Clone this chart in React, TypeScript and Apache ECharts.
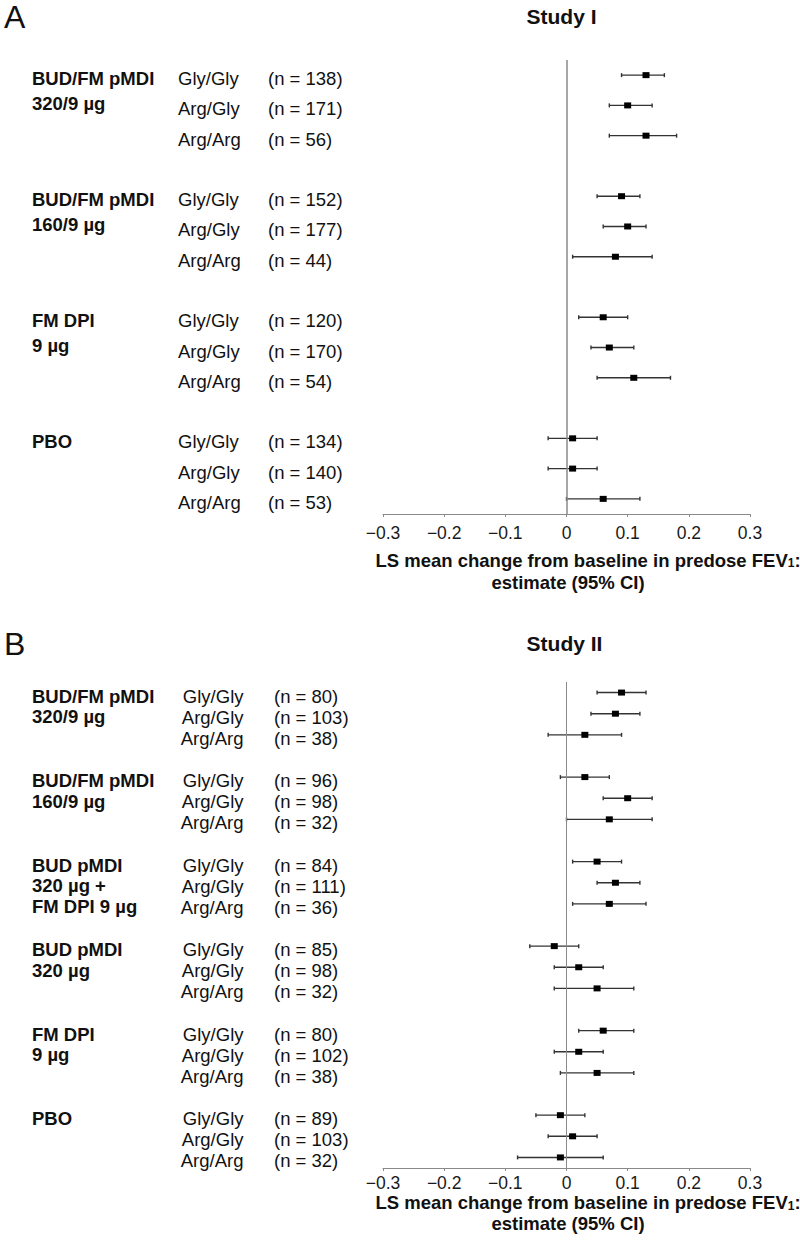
import React, { useEffect, useRef } from "react";
import * as echarts from "echarts";

const FONT = "'Liberation Sans', Arial, Helvetica, sans-serif";

const genotypes = ["Gly/Gly", "Arg/Gly", "Arg/Arg"];

// Study I
const studyIGroups = ["BUD/FM pMDI\n320/9 µg", "BUD/FM pMDI\n160/9 µg", "FM DPI\n9 µg", "PBO"];
const studyIN = [[138, 171, 56], [152, 177, 44], [120, 170, 54], [134, 140, 53]];
const studyIEst = [[0.13, 0.10, 0.13], [0.09, 0.10, 0.08], [0.06, 0.07, 0.11], [0.01, 0.01, 0.06]];
const studyILo = [[0.09, 0.07, 0.07], [0.05, 0.06, 0.01], [0.02, 0.04, 0.05], [-0.03, -0.03, 0.0]];
const studyIHi = [[0.16, 0.14, 0.18], [0.12, 0.13, 0.14], [0.10, 0.11, 0.17], [0.05, 0.05, 0.12]];

// Study II
const studyIIGroups = [
  "BUD/FM pMDI\n320/9 µg",
  "BUD/FM pMDI\n160/9 µg",
  "BUD pMDI\n320 µg +\nFM DPI 9 µg",
  "BUD pMDI\n320 µg",
  "FM DPI\n9 µg",
  "PBO",
];
const studyIIN = [[80, 103, 38], [96, 98, 32], [84, 111, 36], [85, 98, 32], [80, 102, 38], [89, 103, 32]];
const studyIIEst = [[0.09, 0.08, 0.03], [0.03, 0.10, 0.07], [0.05, 0.08, 0.07], [-0.02, 0.02, 0.05], [0.06, 0.02, 0.05], [-0.01, 0.01, -0.01]];
const studyIILo = [[0.05, 0.04, -0.03], [-0.01, 0.06, 0.0], [0.01, 0.05, 0.01], [-0.06, -0.02, -0.02], [0.02, -0.02, -0.01], [-0.05, -0.03, -0.08]];
const studyIIHi = [[0.13, 0.12, 0.09], [0.07, 0.14, 0.14], [0.09, 0.12, 0.13], [0.02, 0.06, 0.11], [0.11, 0.06, 0.11], [0.03, 0.05, 0.06]];

const ROWS_PER_GROUP = 4; // 3 genotypes + 1 spacer row

function rowIndex(gi: number, ri: number) {
  return gi * ROWS_PER_GROUP + ri;
}
function buildRows(est: number[][], lo: number[][], hi: number[][]) {
  return est.flatMap((g, gi) => g.map((e, ri) => [rowIndex(gi, ri), e, lo[gi][ri], hi[gi][ri]]));
}
function categories(nGroups: number) {
  const n = nGroups * ROWS_PER_GROUP - 1;
  return Array.from({ length: n }, (_, i) => String(i));
}

function fmtTick(v: number) {
  if (Math.abs(v) < 1e-9) return "0";
  return (v < 0 ? "\u2212" : "") + Math.abs(v).toFixed(1);
}

const renderCI = (params: any, api: any) => {
  const yi = api.value(0);
  const pE = api.coord([api.value(1), yi]);
  const pL = api.coord([api.value(2), yi]);
  const pH = api.coord([api.value(3), yi]);
  const st = { stroke: "#333", lineWidth: 1.4 };
  return {
    type: "group",
    children: [
      { type: "line", shape: { x1: pL[0], y1: pL[1], x2: pH[0], y2: pH[1] }, style: st },
      { type: "line", shape: { x1: pL[0], y1: pL[1] - 2, x2: pL[0], y2: pL[1] + 2 }, style: st },
      { type: "line", shape: { x1: pH[0], y1: pH[1] - 2, x2: pH[0], y2: pH[1] + 2 }, style: st },
      { type: "rect", shape: { x: pE[0] - 3.5, y: pE[1] - 3, width: 7, height: 6 }, style: { fill: "#000" } },
    ],
  };
};

function xAxisCfg(gridIndex: number, margin: number) {
  return {
    type: "value",
    gridIndex,
    min: -0.3,
    max: 0.3,
    interval: 0.1,
    splitLine: { show: false },
    axisLine: { show: true, onZero: false, lineStyle: { color: "#8a8a8a", width: 1 } },
    axisTick: { show: true, length: 3, lineStyle: { color: "#8a8a8a" } },
    axisLabel: {
      fontSize: 17.5,
      lineHeight: 15,
      color: "#1a1a1a",
      fontFamily: FONT,
      margin,
      formatter: fmtTick,
    },
  };
}

function yAxisCfg(gridIndex: number, n: number) {
  return {
    type: "category",
    gridIndex,
    inverse: true,
    data: categories(n),
    axisLine: { show: false },
    axisTick: { show: false },
    axisLabel: { show: false },
    splitLine: { show: false },
  };
}

function ciSeries(idx: number, data: number[][], zeroWidth: number) {
  return {
    type: "custom",
    xAxisIndex: idx,
    yAxisIndex: idx,
    renderItem: renderCI,
    encode: { x: [1, 2, 3], y: 0 },
    data,
    markLine: {
      silent: true,
      symbol: "none",
      label: { show: false },
      lineStyle: { color: "#8a8a8a", width: zeroWidth, type: "solid" },
      data: [{ xAxis: 0 }],
    },
  };
}

export default function App() {
  const ref = useRef<HTMLDivElement>(null);
  useEffect(() => {
    if (!ref.current) return;
    const chart = echarts.init(ref.current, null, { renderer: "svg" });
    const option: any = {
      animation: false,
      backgroundColor: "#fff",
      grid: [
        { left: 383, top: 60, width: 367, height: 454 },
        { left: 383, top: 682, width: 367, height: 486 },
      ],
      xAxis: [xAxisCfg(0, 11), xAxisCfg(1, 7)],
      yAxis: [yAxisCfg(0, studyIGroups.length), yAxisCfg(1, studyIIGroups.length)],
      series: [
        ciSeries(0, buildRows(studyIEst, studyILo, studyIHi), 1.5),
        ciSeries(1, buildRows(studyIIEst, studyIILo, studyIIHi), 1),
      ],
    };
    chart.setOption(option);

    const txt = (x: number, y: number, text: string, extra: any = {}) => ({
      type: "text",
      x,
      y,
      silent: true,
      style: {
        text,
        fill: "#111",
        fontFamily: FONT,
        fontSize: 18.5,
        verticalAlign: "middle",
        align: "left",
        ...extra,
      },
    });

    const graphics: any[] = [];
    // panel letters & titles
    graphics.push(txt(4, 16.5, "A", { fontSize: 32 }));
    graphics.push(txt(4, 643.5, "B", { fontSize: 32 }));
    graphics.push(txt(561.5, 16, "Study I", { fontSize: 21, fontWeight: "bold", align: "center" }));
    graphics.push(txt(564.5, 643, "Study II", { fontSize: 21, fontWeight: "bold", align: "center" }));

    const axisTitle = (x1: number, y1: number, x2: number, y2: number) => {
      graphics.push({
        type: "text",
        x: x1,
        y: y1,
        silent: true,
        style: {
          text: "{m|LS mean change from baseline in predose FEV}{s|1}{m|:}",
          align: "center",
          verticalAlign: "middle",
          fontFamily: FONT,
          rich: {
            m: { fontSize: 18.5, fontWeight: "bold", fill: "#111", lineHeight: 18, fontFamily: FONT },
            s: { fontSize: 12, fontWeight: "bold", fill: "#111", lineHeight: 7, verticalAlign: "bottom", fontFamily: FONT },
          },
        },
      });
      graphics.push(txt(x2, y2, "estimate (95% CI)", { fontWeight: "bold", align: "center", lineHeight: 18 }));
    };
    axisTitle(588, 560, 568, 582.5);
    axisTitle(588, 1202.5, 568, 1223.5);

    const OFF = 3.5;
    // Study I labels
    studyIGroups.forEach((g, gi) => {
      const y0 = chart.convertToPixel({ yAxisIndex: 0 }, rowIndex(gi, 0)) as number;
      graphics.push(txt(32, y0 + OFF - 12.25, g, { fontWeight: "bold", verticalAlign: "top", lineHeight: 24.5 }));
      genotypes.forEach((gt, ri) => {
        const y = chart.convertToPixel({ yAxisIndex: 0 }, rowIndex(gi, ri)) as number;
        graphics.push(txt(178, y + OFF, gt));
        graphics.push(txt(268, y + OFF, `(n = ${studyIN[gi][ri]})`));
      });
    });
    // Study II labels
    studyIIGroups.forEach((g, gi) => {
      const y0 = chart.convertToPixel({ yAxisIndex: 1 }, rowIndex(gi, 0)) as number;
      graphics.push(txt(32, y0 + OFF - 10.25, g, { fontWeight: "bold", verticalAlign: "top", lineHeight: 20.5 }));
      genotypes.forEach((gt, ri) => {
        const y = chart.convertToPixel({ yAxisIndex: 1 }, rowIndex(gi, ri)) as number;
        graphics.push(txt(243.5, y + OFF, gt, { align: "right", lineHeight: 18 }));
        graphics.push(txt(274, y + OFF, `(n = ${studyIIN[gi][ri]})`, { lineHeight: 18 }));
      });
    });

    chart.setOption({ graphic: graphics });
    return () => chart.dispose();
  }, []);

  return (
    <div
      ref={ref}
      style={{ position: "absolute", left: 0, top: 0, width: 800, height: 1243, background: "#fff" }}
    />
  );
}
